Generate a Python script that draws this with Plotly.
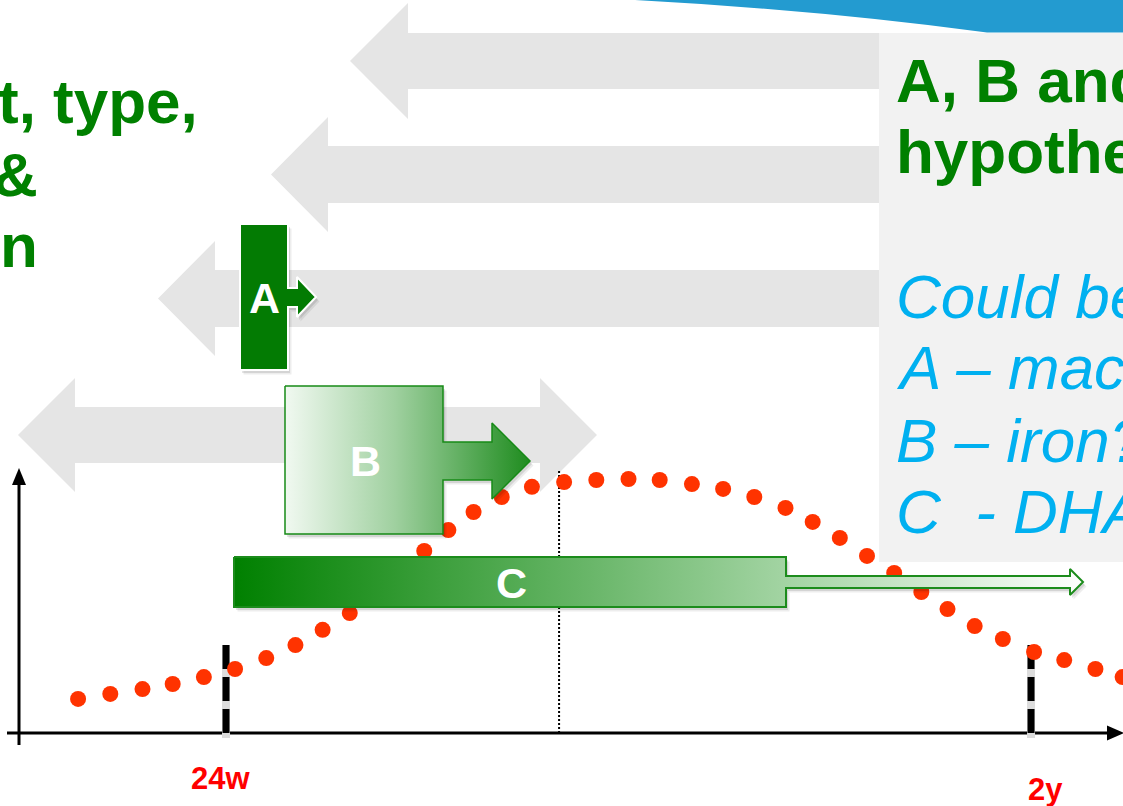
import plotly.graph_objects as go

# Dotted curve: age (weeks) vs. relative level (% of peak)
age_weeks = [9.3, 12.5, 15.7, 18.7, 21.8, 24.9, 28.0, 30.9, 33.6, 36.3, 38.8, 41.2,
             43.7, 46.1, 48.6, 51.4, 54.4, 57.6, 60.8, 64.0, 67.1, 70.3, 73.4, 76.5,
             79.6, 82.3, 85.0, 87.7, 90.4, 93.1, 95.7, 98.4, 101.2, 104.3, 107.3,
             110.4, 113.1]
level = [13.4, 15.4, 17.3, 19.3, 22.0, 25.2, 29.5, 34.6, 40.6, 47.2, 55.5, 63.4,
         71.7, 79.9, 87.0, 92.9, 96.9, 98.8, 99.6, 100.0, 99.6, 98.0, 96.1, 92.9,
         88.6, 83.1, 76.8, 69.7, 63.0, 55.5, 48.8, 42.1, 37.0, 31.9, 28.7, 25.2, 22.0]

milestone_weeks = [24, 104]
milestone_labels = ["24w", "2y"]
peak_week = 57.1

left_lines = ["t, type,", "&", "n"]
box_title = ["A, B and C", "hypothesised"]
box_lines = ["Could be:", "A \u2013 macronutrients?", "B \u2013 iron?",
             "C\u00a0\u00a0- DHA?"]

W, H = 1123, 806
X_RANGE = [1.54, 113.14]
Y_RANGE = [-28.74, 288.58]

GREEN = "#008000"
BLUE = "#00B0F0"
GREY_ARROW = "#e5e5e5"
FONT = "Liberation Sans, Arial, sans-serif"


def ppath(points, close=True):
    """Polygon path in paper units from canvas pixel points."""
    s = "M " + " L ".join(f"{x / W:.5f},{1 - y / H:.5f}" for x, y in points)
    return s + (" Z" if close else "")


shapes = []


def add_poly(points, fill, layer="below"):
    shapes.append(dict(type="path", xref="paper", yref="paper", path=ppath(points),
                       fillcolor=fill, line=dict(width=0), layer=layer))


# grey timeline arrows
add_poly([(350, 61), (408, 3), (408, 33), (900, 33), (900, 89), (408, 89), (408, 119)], GREY_ARROW)
add_poly([(271, 174.5), (328, 117), (328, 146), (900, 146), (900, 203), (328, 203), (328, 232)], GREY_ARROW)
add_poly([(158, 298.5), (215, 241), (215, 270), (900, 270), (900, 327), (215, 327), (215, 356)], GREY_ARROW)
add_poly([(18, 435), (75, 378), (75, 407), (540, 407), (540, 378), (597, 435),
          (540, 492), (540, 463), (75, 463), (75, 492)], GREY_ARROW)

# text panel and header band
shapes.append(dict(type="rect", xref="paper", yref="paper", x0=879 / W, x1=1.0,
                   y0=1 - 562 / H, y1=1 - 33 / H, fillcolor="#f2f2f2",
                   line=dict(width=0), layer="below"))
shapes.append(dict(type="path", xref="paper", yref="paper",
                   path=(f"M {635 / W:.5f},1 Q {820 / W:.5f},{1 - 10 / H:.5f} "
                         f"{987 / W:.5f},{1 - 32.5 / H:.5f} L 1,{1 - 32.5 / H:.5f} L 1,1 Z"),
                   fillcolor="#239bd0", line=dict(width=0), layer="below"))

# axes with arrowheads
shapes.append(dict(type="line", xref="paper", yref="paper", x0=19 / W, x1=19 / W,
                   y0=1 - 745 / H, y1=1 - 484 / H, line=dict(color="black", width=3),
                   layer="below"))
add_poly([(19, 468), (12, 485), (26, 485)], "black")
shapes.append(dict(type="line", xref="paper", yref="paper", x0=7 / W, x1=1108 / W,
                   y0=1 - 733 / H, y1=1 - 733 / H, line=dict(color="black", width=3),
                   layer="below"))
add_poly([(1124, 733), (1107, 725.5), (1107, 740.5)], "black")

# milestone markers and peak marker in data coordinates
for wk in milestone_weeks:
    shapes.append(dict(type="line", xref="x", yref="y", x0=wk, x1=wk, y0=34.6, y1=-2,
                       line=dict(color="#dcdcdc", width=8), layer="below"))
    shapes.append(dict(type="line", xref="x", yref="y", x0=wk, x1=wk, y0=34.6, y1=-2,
                       line=dict(color="black", width=7, dash="24px,8px"), layer="below"))
shapes.append(dict(type="line", xref="x", yref="y", x0=peak_week, x1=peak_week,
                   y0=0, y1=103.5, line=dict(color="black", width=2, dash="2px,2px"),
                   layer="below"))

fig = go.Figure()

fig.add_trace(go.Scatter(x=age_weeks, y=level, mode="markers",
                         marker=dict(size=16, color="#ff3300", line=dict(width=0)),
                         hoverinfo="skip"))


def box_trace(points, shadow=False, **kw):
    xs = [p[0] for p in points] + [points[0][0]]
    ys = [p[1] for p in points] + [points[0][1]]
    return go.Scatter(x=xs, y=ys, xaxis="x2", yaxis="y2", mode="lines", fill="toself",
                      hoverinfo="skip", **kw)


def shadowed(points, **kw):
    for dx, dy, a in [(3.5, 4.5, 0.07), (2, 3, 0.10)]:
        pts = [(x + dx, y + dy) for x, y in points]
        fig.add_trace(box_trace(pts, fillcolor=f"rgba(0,0,0,{a})", line=dict(width=0)))
    fig.add_trace(box_trace(points, **kw))


shape_a = [(240, 224), (288, 224), (288, 288), (297, 288), (297, 277), (316, 297),
           (297, 317), (297, 307), (288, 307), (288, 370), (240, 370)]
shape_b = [(285, 386), (443, 386), (443, 442), (492, 442), (492, 423), (530, 461),
           (492, 499), (492, 480), (443, 480), (443, 534), (285, 534)]
shape_c = [(234, 557), (786, 557), (786, 576), (1070, 576), (1070, 569), (1083, 582),
           (1070, 595), (1070, 588), (786, 588), (786, 607), (234, 607)]

shadowed(shape_a, fillcolor="#037b03", line=dict(color="white", width=2))
shadowed(shape_b, fillcolor="#7cc07c", line=dict(color="#178a17", width=1.5),
         fillgradient=dict(type="horizontal", start=285, stop=530,
                           colorscale=[[0, "#f1f9f1"], [0.45, "#9fd09f"], [1, "#1f8c1f"]]))
shadowed(shape_c, fillcolor="#60b060", line=dict(color="#1c8c1c", width=2),
         fillgradient=dict(type="horizontal", start=234, stop=1083,
                           colorscale=[[0, "#008000"], [0.65, "#a3d4a3"], [1, "#ffffff"]]))

annotations = []


def text(x, y, s, size, color, xanchor="left", xref="x2", xshift=0):
    annotations.append(dict(x=x, y=y, xref=xref, yref="y2", text=s, showarrow=False,
                            xanchor=xanchor, yanchor="middle", borderpad=0,
                            borderwidth=0, xshift=xshift,
                            font=dict(family=FONT, size=size, color=color)))


# shape letters
text(264, 298, "<b>A</b>", 43, "white", xanchor="center")
text(365, 461, "<b>B</b>", 43, "white", xanchor="center")
text(511, 583, "<b>C</b>", 43, "white", xanchor="center")

# left heading fragment
text(198, 101.5, f"<b>{left_lines[0]}</b>", 62, GREEN, xanchor="right")
text(38, 174.5, f"<b>{left_lines[1]}</b>", 62, GREEN, xanchor="right")
text(38, 245.5, f"<b>{left_lines[2]}</b>", 62, GREEN, xanchor="right")

# panel text
for s, yc in zip(box_title, [80, 151.5]):
    text(896, yc, f"<b>{s}</b>", 62, GREEN)
for s, yc in zip(box_lines, [296.5, 367.5, 440.5, 511.5]):
    text(896, yc, f"<i>{s}</i>", 62, BLUE)

# milestone labels
for wk, lab, dx, yc in zip(milestone_weeks, milestone_labels, [-6, 14.5], [778, 789]):
    text(wk, yc, f"<b>{lab}</b>", 31, "#ff0000", xanchor="center", xref="x", xshift=dx)

fig.update_layout(
    width=W, height=H, margin=dict(l=0, r=0, t=0, b=0),
    paper_bgcolor="white", plot_bgcolor="white", showlegend=False,
    xaxis=dict(range=X_RANGE, visible=False, showgrid=False, zeroline=False),
    yaxis=dict(range=Y_RANGE, visible=False, showgrid=False, zeroline=False),
    xaxis2=dict(range=[0, W], overlaying="x", anchor="y2", visible=False),
    yaxis2=dict(range=[H, 0], overlaying="y", anchor="x2", visible=False),
    shapes=shapes, annotations=annotations,
)

fig.write_html("out.html")
